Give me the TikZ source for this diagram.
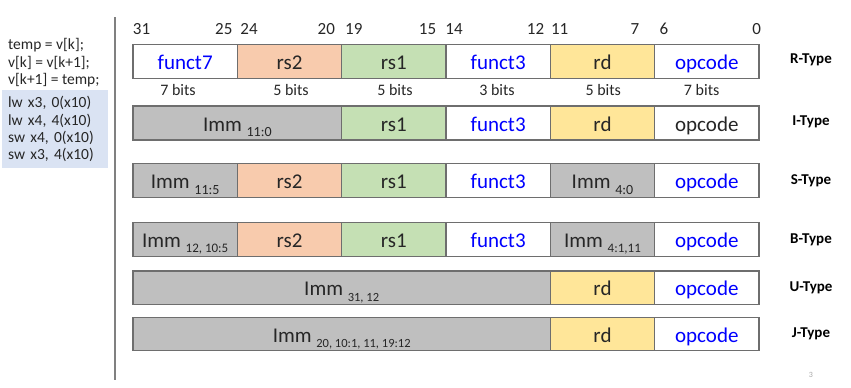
\documentclass[tikz,border=0pt]{standalone}
\usepackage{fontspec}
\setmainfont{Carlito}
\usetikzlibrary{positioning}
\definecolor{peach}{HTML}{F8CBAD}
\definecolor{mint}{HTML}{C5E0B4}
\definecolor{butter}{HTML}{FFE699}
\definecolor{immgray}{HTML}{BFBFBF}
\definecolor{edge}{HTML}{6E6E6E}
\definecolor{ink}{HTML}{262626}
\definecolor{fnblue}{HTML}{0000FF}
\definecolor{codebg}{HTML}{DAE3F3}
\definecolor{rulegray}{HTML}{808080}

% Imm label with lowered bit range
\newcommand{\immlbl}[2][14]{Imm \raisebox{-5.5pt}{\fontsize{#1}{#1}\selectfont #2}}

\begin{document}
\begin{tikzpicture}[x=1pt, y=-1pt,
  field/.style={draw=edge, line width=1.3pt, inner sep=0pt, outer sep=0pt,
    minimum height=34pt, text=ink, font=\fontsize{21}{21}\selectfont,
    text height=16pt, text depth=0pt},
  w1/.style={minimum width=104.33pt},
  w2/.style={minimum width=208.67pt},
  w4/.style={minimum width=417.33pt},
  bitnum/.style={text=ink, font=\fontsize{17}{17}\selectfont, anchor=base, inner sep=0pt},
  bitcnt/.style={text=ink, font=\fontsize{16}{16}\selectfont, anchor=base, inner sep=0pt},
  typelbl/.style={text=black, font=\fontsize{15}{15}\selectfont\bfseries}]

\useasboundingbox (0,0) rectangle (851,388);

% === Left: code ===
\node[text=ink, font=\fontsize{15.5}{17.5}\selectfont, align=left, anchor=north west, inner sep=0pt]
  (src) at (8,38.5) {temp = v[k];\\ v[k] = v[k+1];\\ v[k+1] = temp;};
\node[fill=codebg, text=ink, font=\fontsize{15.5}{17.3}\selectfont, align=left, anchor=north west,
  inner xsep=6pt, inner ysep=0pt, minimum width=106pt, minimum height=78pt, text width=94pt]
  (asm) at (2,90) {lw x3, 0(x10)\\ lw x4, 4(x10)\\ sw x4, 0(x10)\\ sw x3, 4(x10)};

% Divider
\coordinate (dtop) at (115,17);
\coordinate (dbot) at (115,380);
\draw[rulegray, line width=1.5pt] (dtop) -- (dbot);

% === Bit positions ===
\node[bitnum] (b31) at (141.5,34) {31};
\node[bitnum] (b25) at (223.8,34) {25};
\node[bitnum] (b24) at (249,34) {24};
\node[bitnum] (b20) at (326.3,34) {20};
\node[bitnum] (b19) at (353.8,34) {19};
\node[bitnum] (b15) at (427.5,34) {15};
\node[bitnum] (b14) at (454,34) {14};
\node[bitnum] (b12) at (535.5,34) {12};
\node[bitnum] (b11) at (559.7,34) {11};
\node[bitnum] (b7) at (635,34) {7};
\node[bitnum] (b6) at (664,34) {6};
\node[bitnum] (b0) at (756.7,34) {0};

% === R-Type ===
\node[field, w1, anchor=west, text=fnblue] (rf7) at (133,61.3) {funct7};
\node[field, w1, fill=peach, right=0pt of rf7] (rrs2) {rs2};
\node[field, w1, fill=mint, right=0pt of rrs2] (rrs1) {rs1};
\node[field, w1, text=fnblue, right=0pt of rrs1] (rf3) {funct3};
\node[field, w1, fill=butter, right=0pt of rf3] (rrd) {rd};
\node[field, w1, text=fnblue, right=0pt of rrd] (rop) {opcode};
\node[typelbl] (rtype) at (811,59.5) {R-Type};

% Field widths
\node[bitcnt] (n7a) at (178,95) {7 bits};
\node[bitcnt] (n5a) at (291,95) {5 bits};
\node[bitcnt] (n5b) at (395,95) {5 bits};
\node[bitcnt] (n3) at (497,95) {3 bits};
\node[bitcnt] (n5c) at (603.3,95) {5 bits};
\node[bitcnt] (n7b) at (701.7,95) {7 bits};

% === I-Type ===
\node[field, w2, anchor=west, fill=immgray] (iimm) at (133,123) {\immlbl{11:0}};
\node[field, w1, fill=mint, right=0pt of iimm] (irs1) {rs1};
\node[field, w1, text=fnblue, right=0pt of irs1] (if3) {funct3};
\node[field, w1, fill=butter, right=0pt of if3] (ird) {rd};
\node[field, w1, right=0pt of ird] (iop) {opcode};
\node[typelbl] (itype) at (811,121.5) {I-Type};

% === S-Type ===
\node[field, w1, anchor=west, fill=immgray] (simmh) at (133,180.5) {\immlbl{11:5}};
\node[field, w1, fill=peach, right=0pt of simmh] (srs2) {rs2};
\node[field, w1, fill=mint, right=0pt of srs2] (srs1) {rs1};
\node[field, w1, text=fnblue, right=0pt of srs1] (sf3) {funct3};
\node[field, w1, fill=immgray, right=0pt of sf3] (simml) {\immlbl{4:0}};
\node[field, w1, text=fnblue, right=0pt of simml] (sop) {opcode};
\node[typelbl] (stype) at (811,181) {S-Type};

% === B-Type ===
\node[field, w1, anchor=west, fill=immgray] (bimmh) at (133,239.2) {\immlbl[13]{12, 10:5}};
\node[field, w1, fill=peach, right=0pt of bimmh] (brs2) {rs2};
\node[field, w1, fill=mint, right=0pt of brs2] (brs1) {rs1};
\node[field, w1, text=fnblue, right=0pt of brs1] (bf3) {funct3};
\node[field, w1, fill=immgray, right=0pt of bf3] (bimml) {\immlbl[13]{4:1,11}};
\node[field, w1, text=fnblue, right=0pt of bimml] (bop) {opcode};
\node[typelbl] (btype) at (811,239.5) {B-Type};

% === U-Type ===
\node[field, w4, anchor=west, fill=immgray, minimum height=33.4pt] (uimm) at (133,287.7) {\immlbl[12.5]{31, 12}};
\node[field, w1, fill=butter, minimum height=33.4pt, right=0pt of uimm] (urd) {rd};
\node[field, w1, text=fnblue, minimum height=33.4pt, right=0pt of urd] (uop) {opcode};
\node[typelbl] (utype) at (811,288) {U-Type};

% === J-Type ===
\node[field, w4, anchor=west, fill=immgray, minimum height=33.4pt] (jimm) at (133,334) {\immlbl[12.5]{20, 10:1, 11, 19:12}};
\node[field, w1, fill=butter, minimum height=33.4pt, right=0pt of jimm] (jrd) {rd};
\node[field, w1, text=fnblue, minimum height=33.4pt, right=0pt of jrd] (jop) {opcode};
\node[typelbl] (jtype) at (811,334) {J-Type};

% Page number
\node[text=gray!70, font=\fontsize{8}{8}\selectfont] (pgno) at (811,375) {3};

\end{tikzpicture}
\end{document}
